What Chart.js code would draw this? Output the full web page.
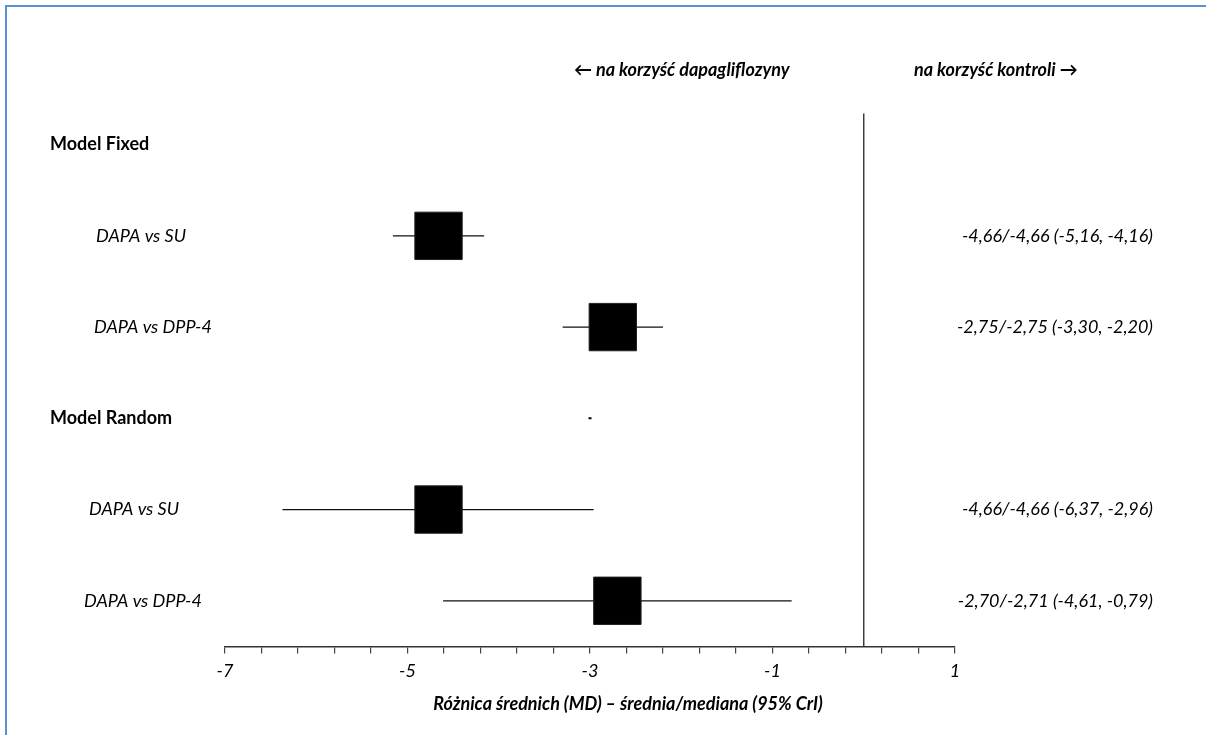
<!DOCTYPE html>
<html>
<head>
<meta charset="utf-8">
<script src="https://cdn.jsdelivr.net/npm/chart.js@4.4.1/dist/chart.umd.min.js"></script>
<style>
  html, body { margin: 0; padding: 0; background: #fff; }
  #wrap { position: relative; width: 1206px; height: 735px; overflow: hidden; }
  #frame { position: absolute; left: 5px; top: 5px; right: -10px; bottom: -10px;
           border-left: 2px solid #5b8fd4; border-top: 2px solid #5b8fd4; }
  canvas { position: absolute; left: 0; top: 0; }
</style>
</head>
<body>
<div id="wrap">
  <div id="frame"></div>
  <canvas id="forest" width="1206" height="735"></canvas>
</div>
<script>
// group headers and comparisons, one per row (rows counted from the top)
const groups = ['Model Fixed', 'Model Random'];
const groupRows = [1, 4];
const comparisons = ['DAPA vs SU', 'DAPA vs DPP-4', 'DAPA vs SU', 'DAPA vs DPP-4'];
const comparisonRows = [2, 3, 5, 6];

// mean difference, median and 95% CrI
const meanMD = [-4.66, -2.75, -4.66, -2.70];
const medianMD = [-4.66, -2.75, -4.66, -2.71];
const lowerCrI = [-5.16, -3.30, -6.37, -4.61];
const upperCrI = [-4.16, -2.20, -2.96, -0.79];

// x axis
const xMin = -7;
const xMax = 1;
const xStep = 0.4;
const xLabelled = [-7, -5, -3, -1, 1];

const fmt = v => v.toFixed(2).replace('.', ',');
const summary = meanMD.map((m, i) =>
  fmt(m) + '/' + fmt(medianMD[i]) + ' (' + fmt(lowerCrI[i]) + ', ' + fmt(upperCrI[i]) + ')');

const FONT = 'Lato, "Open Sans", sans-serif';

// CI whiskers, one line per comparison
const ciSets = comparisons.map((c, i) => ({
  type: 'line',
  label: c + ' CrI',
  data: [{ x: lowerCrI[i], y: comparisonRows[i] }, { x: upperCrI[i], y: comparisonRows[i] }],
  borderColor: '#111',
  borderWidth: 1.2,
  pointRadius: 0,
  order: 2
}));

const datasets = [
  {
    label: 'MD',
    data: meanMD.map((m, i) => ({ x: m, y: comparisonRows[i] })),
    pointStyle: 'rect',
    pointRadius: 33.5,
    pointHoverRadius: 33.5,
    backgroundColor: '#000',
    borderColor: '#222',
    borderWidth: 1,
    order: 0
  },
  // small stub left on the random-model header row
  {
    label: 'stub',
    data: [{ x: -3, y: groupRows[1] }],
    pointStyle: 'line',
    pointRadius: 1.5,
    borderColor: '#000',
    borderWidth: 2,
    order: 0
  },
  // line of no effect
  {
    type: 'line',
    label: 'zero',
    data: [{ x: 0, y: 0.66 }, { x: 0, y: 6.5 }],
    borderColor: '#333',
    borderWidth: 1.4,
    pointRadius: 0,
    order: 3
  },
  ...ciSets
];

const textLayer = {
  id: 'textLayer',
  afterDraw(chart) {
    const ctx = chart.ctx;
    const y = chart.scales.y;
    ctx.save();
    ctx.fillStyle = '#000';
    ctx.textBaseline = 'middle';

    ctx.font = 'bold 18px ' + FONT;
    ctx.textAlign = 'left';
    groups.forEach((g, i) => ctx.fillText(g, 50, y.getPixelForValue(groupRows[i])));

    ctx.font = 'italic 18px ' + FONT;
    const indent = [96, 94, 89, 84];
    comparisons.forEach((c, i) => ctx.fillText(c, indent[i], y.getPixelForValue(comparisonRows[i])));

    ctx.textAlign = 'right';
    summary.forEach((s, i) => ctx.fillText(s, 1153, y.getPixelForValue(comparisonRows[i])));

    ctx.font = 'bold italic 18px ' + FONT;
    ctx.textAlign = 'left';
    ctx.fillText('\u2190 na korzyść dapagliflozyny', 574, 70);
    ctx.fillText('na korzyść kontroli \u2192', 914, 70);

    ctx.textAlign = 'center';
    ctx.fillText('Różnica średnich (MD) – średnia/mediana (95% CrI)', 628, 704);
    ctx.restore();
  }
};

new Chart(document.getElementById('forest'), {
  type: 'scatter',
  data: { datasets },
  options: {
    responsive: false,
    animation: false,
    events: [],
    layout: { padding: { left: 225, right: 251, top: 99, bottom: 46 } },
    plugins: { legend: { display: false }, tooltip: { enabled: false } },
    scales: {
      x: {
        type: 'linear',
        min: xMin,
        max: xMax,
        afterBuildTicks(scale) {
          const ticks = [];
          for (let k = 0; k <= Math.round((xMax - xMin) / xStep); k++) {
            ticks.push({ value: +(xMin + k * xStep).toFixed(2) });
          }
          scale.ticks = ticks;
        },
        border: { display: true, color: '#333', width: 1.4 },
        grid: { drawOnChartArea: false, drawTicks: true, tickLength: 7, color: '#444', lineWidth: 1.2 },
        ticks: {
          autoSkip: false,
          maxRotation: 0,
          padding: 7,
          color: '#000',
          font: { family: FONT, size: 18, style: 'italic' },
          callback: v => (xLabelled.includes(v) ? String(v) : '')
        }
      },
      y: {
        type: 'linear',
        display: false,
        reverse: true,
        min: 0.5,
        max: 6.5
      }
    }
  },
  plugins: [textLayer]
});
</script>
</body>
</html>
